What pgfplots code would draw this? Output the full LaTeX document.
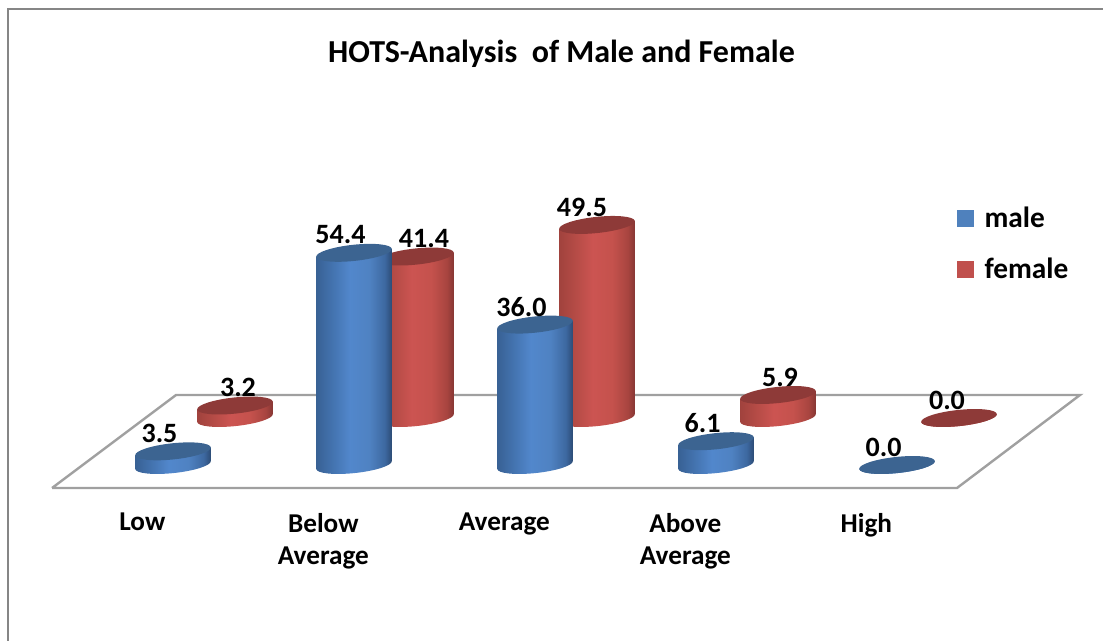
\documentclass[border=0pt]{standalone}
\usepackage{fontspec}
\setmainfont{Carlito}
\usepackage{pgfplots}
\pgfplotsset{compat=1.18}
\definecolor{mblue}{HTML}{4F81BD}
\definecolor{fred}{HTML}{C0504D}
\definecolor{mtop}{HTML}{3C6491}
\definecolor{ftop}{HTML}{8E3A38}
\definecolor{frameg}{HTML}{868686}
\definecolor{floorg}{HTML}{A0A0A0}
\pgfdeclarehorizontalshading{cylblue}{100bp}{
 rgb(0bp)=(0.22,0.38,0.58);rgb(25bp)=(0.22,0.38,0.58);rgb(37bp)=(0.27,0.46,0.70);rgb(47bp)=(0.32,0.53,0.80);rgb(60bp)=(0.31,0.51,0.76);rgb(70bp)=(0.24,0.41,0.63);rgb(75bp)=(0.17,0.29,0.45);rgb(100bp)=(0.17,0.29,0.45)}
\pgfdeclarehorizontalshading{cylred}{100bp}{
 rgb(0bp)=(0.63,0.26,0.24);rgb(25bp)=(0.63,0.26,0.24);rgb(37bp)=(0.72,0.30,0.28);rgb(47bp)=(0.80,0.33,0.32);rgb(60bp)=(0.77,0.32,0.30);rgb(70bp)=(0.66,0.27,0.25);rgb(75bp)=(0.52,0.21,0.20);rgb(100bp)=(0.52,0.21,0.20)}
% one cylinder: origin at the centre of the cap, body length from the data value
\newcommand{\cylbody}[1]{%
 \pgfpathmoveto{\pgfpoint{-28.34pt}{-2.98pt}}%
 \pgfpathlineto{\pgfpoint{-28.34pt}{-2.98pt-#1 pt}}%
 \pgfpathcurveto{\pgfpoint{-27.992pt}{-6.31pt-#1 pt}}{\pgfpoint{-15.02pt}{-7.676pt-#1 pt}}{\pgfpoint{0.63pt}{-6.03pt-#1 pt}}%
 \pgfpathcurveto{\pgfpoint{16.28pt}{-4.384pt-#1 pt}}{\pgfpoint{28.688pt}{-0.35pt-#1 pt}}{\pgfpoint{28.34pt}{2.98pt-#1 pt}}%
 \pgfpathlineto{\pgfpoint{28.34pt}{2.98pt}}%
 \pgfpathclose}
\newcommand{\cylpath}{\pgfpathellipse{\pgfpointorigin}{\pgfpoint{28.34pt}{2.98pt}}{\pgfpoint{-0.63pt}{6.03pt}}}
\pgfdeclareplotmark{cyl blue}{\cylbody{\hgt}\pgfshadepath{cylblue}{0}\pgfusepath{discard}\cylpath\pgfsetfillcolor{mtop}\pgfusepathqfill}
\pgfdeclareplotmark{cyl red}{\cylbody{\hgt}\pgfshadepath{cylred}{0}\pgfusepath{discard}\cylpath\pgfsetfillcolor{ftop}\pgfusepathqfill}
\pgfplotsset{
 canvas/.style={scale only axis,width=827.25pt,height=480.75pt,at={(0,0)},anchor=south west,
   clip=false,axis line style={draw=none},tick style={draw=none},ytick=\empty,xtick=\empty},
 cyl/.style={scatter,only marks,mark=cyl #1,forget plot,
   visualization depends on={2.925*y \as \hgt}},
 lab/.style={only marks,mark=none,forget plot,nodes near coords,
   /pgf/number format/fixed,/pgf/number format/fixed zerofill,/pgf/number format/precision=1,
   /pgf/number format/assume math mode=true,
   every node near coord/.append style={anchor=center,inner sep=0pt,xshift=#1*0.75pt,yshift=13.5pt,
     font=\fontsize{21}{24}\selectfont\bfseries,text=black}},
}
\begin{document}
\begin{tikzpicture}
\path[use as bounding box] (0,0) rectangle (827.25pt,480.75pt);
% frame, floor, title, legend: axis in picture units
\begin{axis}[canvas,xmin=0,xmax=1103,ymin=0,ymax=641,y dir=reverse,
  title={HOTS-Analysis\ \ of Male and Female},
  title style={at={(0.509,0.904)},anchor=center,yshift=0pt,font=\fontsize{24}{27}\selectfont\bfseries},
  legend style={at={(0.868,0.682)},anchor=north west,draw=none,fill=none,row sep=18pt,
    font=\fontsize{22}{25}\selectfont\bfseries,inner sep=0pt,outer sep=0pt},
  legend cell align=left]
\addplot[frameg,line width=2.2pt,forget plot] coordinates {(8,641) (8,9) (1103,9)};
\addplot[floorg,line width=1.8pt,forget plot] coordinates {(52,488) (176,395) (1080,395) (957,488) (52,488)};
\addlegendimage{legend image code/.code={\fill[mblue] (0.08cm,-6pt) rectangle (0.08cm+12pt,6pt);\path (0.08cm+18pt,0pt) circle (0pt);}}
\addlegendentry{male}
\addlegendimage{legend image code/.code={\fill[fred] (0.08cm,-6pt) rectangle (0.08cm+12pt,6pt);\path (0.08cm+18pt,0pt) circle (0pt);}}
\addlegendentry{female}
\end{axis}
% female
\begin{axis}[canvas,xmin=-1.2983,xmax=4.7956,ymin=-57.179,ymax=107.179]
\addplot[cyl=red] coordinates {(0,3.2) (1,41.4) (2,49.5) (3,5.9) (4,0.0)};
\addplot[lab=3] coordinates {(0,3.2)};
\addplot[lab=8] coordinates {(1,41.4)};
\addplot[lab=-15] coordinates {(2,49.5)};
\addplot[lab=2] coordinates {(3,5.9)};
\addplot[lab=-12] coordinates {(4,0.0)};
\end{axis}
% male
\begin{axis}[canvas,xmin=-0.9558,xmax=5.138,ymin=-45.128,ymax=119.23,
  xtick={0,1,2,3,4},
  xticklabels={Low,Below\\Average,Average,Above\\Average,High},
  xticklabel style={align=center,anchor=north,xshift=-23pt,yshift=96pt,inner sep=0pt,
     font=\fontsize{20.4}{24}\selectfont\bfseries}]
\addplot[cyl=blue] coordinates {(0,3.5) (1,54.4) (2,36.0) (3,6.1) (4,0.0)};
\addplot[lab=-13.5] coordinates {(0,3.5) (1,54.4) (2,36.0) (3,6.1) (4,0.0)};
\end{axis}
\end{tikzpicture}
\end{document}
